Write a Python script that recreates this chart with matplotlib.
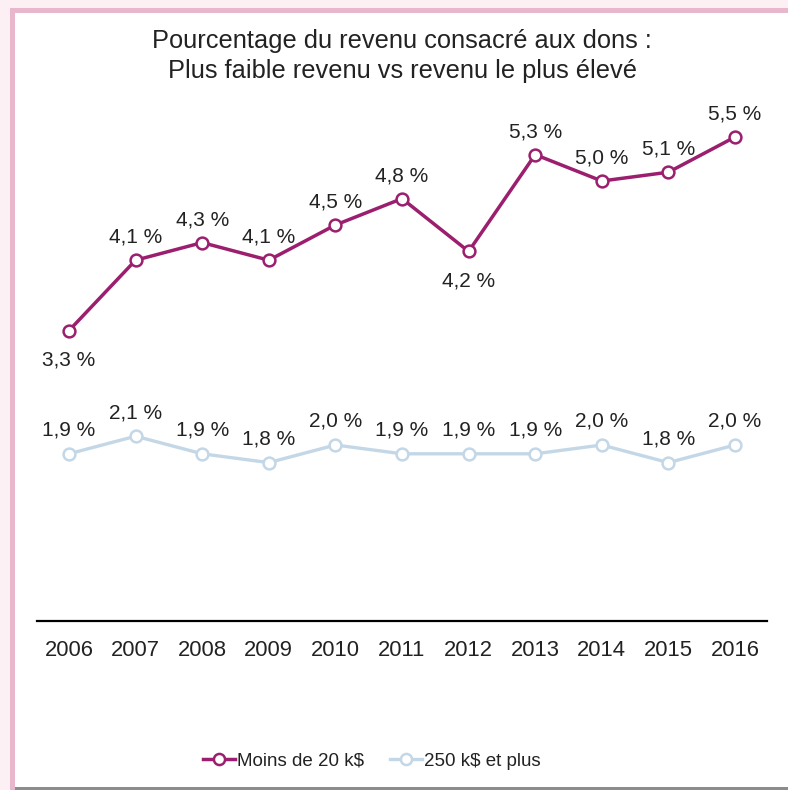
import matplotlib
matplotlib.use("Agg")
import matplotlib.pyplot as plt
from matplotlib.patches import Rectangle
from matplotlib.lines import Line2D

years = ["2006", "2007", "2008", "2009", "2010", "2011", "2012", "2013", "2014", "2015", "2016"]
low_income = [3.3, 4.1, 4.3, 4.1, 4.5, 4.8, 4.2, 5.3, 5.0, 5.1, 5.5]
high_income = [1.9, 2.1, 1.9, 1.8, 2.0, 1.9, 1.9, 1.9, 2.0, 1.8, 2.0]
low_label_below = [True, False, False, False, False, False, True, False, False, False, False]
series_names = ["Moins de 20 k$", "250 k$ et plus"]
title = "Pourcentage du revenu consacré aux dons :\nPlus faible revenu vs revenu le plus élevé"

W, H = 788, 790
plt.rcParams['font.family'] = ['Liberation Sans', 'DejaVu Sans']
fig = plt.figure(figsize=(W / 100, H / 100), dpi=100)
fig.patch.set_facecolor('#fcf0f5')

def px_rect(x0, y0, x1, y1, color):
    fig.patches.append(Rectangle((x0 / W, 1 - y1 / H), (x1 - x0) / W, (y1 - y0) / H,
                                 transform=fig.transFigure, facecolor=color,
                                 edgecolor='none', zorder=-10))

px_rect(10, 8, W, H, '#e9b7cc')
px_rect(15, 13, W, H - 3, 'white')
px_rect(15, H - 3, W, H, '#8c8c8c')

purple = '#9b1f6e'
blue = '#c3d7e7'
txt = '#222222'

ax = fig.add_axes([37 / W, (H - 621) / H, 730 / W, 528 / H])
ax.set_facecolor('none')
x = list(range(len(years)))
ax.plot(x, low_income, color=purple, lw=2.5, marker='o', ms=8.5,
        mfc='white', mec=purple, mew=1.8, zorder=3)
ax.plot(x, high_income, color=blue, lw=2.4, marker='o', ms=8.5,
        mfc='white', mec=blue, mew=1.8, zorder=3)

def fmt(v):
    return f"{v:.1f}".replace('.', ',') + " %"

for xi, v, below in zip(x, low_income, low_label_below):
    off = -21 if below else 16.5
    ax.annotate(fmt(v), (xi, v), xytext=(0, off), textcoords='offset points',
                ha='center', va='center', fontsize=15, color=txt)
for xi, v in zip(x, high_income):
    ax.annotate(fmt(v), (xi, v), xytext=(0, 17), textcoords='offset points',
                ha='center', va='center', fontsize=15, color=txt)

ax.set_xlim(-0.48, len(years) - 1 + 0.48)
ax.set_ylim(0, 6)
ax.set_xticks(x)
ax.set_xticklabels(years, fontsize=15.8, color=txt)
ax.set_yticks([])
ax.tick_params(axis='x', length=0, pad=13.5)
for s in ['top', 'left', 'right']:
    ax.spines[s].set_visible(False)
ax.spines['bottom'].set_color('black')
ax.spines['bottom'].set_linewidth(1.6)

fig.text(402 / W, 1 - 56 / H, title, ha='center', va='center', fontsize=18.3,
         color=txt, linespacing=1.32)

handles = [Line2D([], [], color=purple, lw=2.5, marker='o', ms=8, mfc='white', mec=purple, mew=1.8),
           Line2D([], [], color=blue, lw=2.4, marker='o', ms=8, mfc='white', mec=blue, mew=1.8)]
fig.legend(handles, series_names, loc='center', bbox_to_anchor=(372 / W, 1 - 761 / H),
           ncol=2, frameon=False, fontsize=13.5, handlelength=1.7, handletextpad=0.1,
           columnspacing=1.4, labelcolor=txt)

fig.savefig('out.png', dpi=100, facecolor=fig.get_facecolor())
